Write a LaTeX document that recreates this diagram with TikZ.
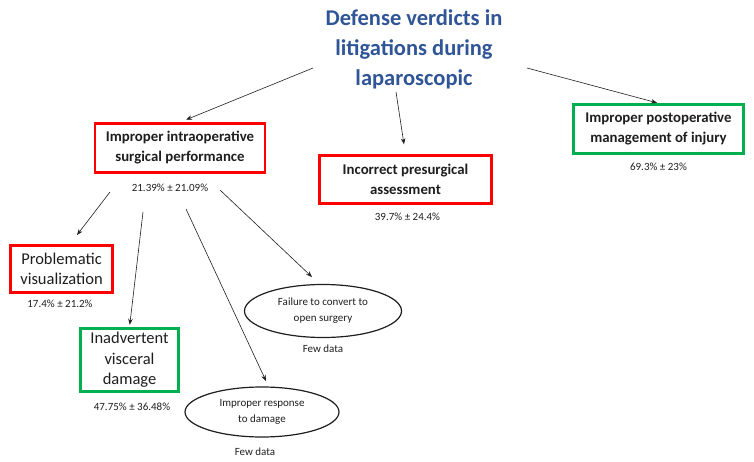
\documentclass[tikz,border=0pt]{standalone}
\usepackage{fontspec}
\setmainfont{Carlito}
\usepackage{tikz}
\usetikzlibrary{arrows.meta,positioning,shapes.geometric}
\definecolor{titleblue}{RGB}{47,85,151}
\definecolor{boxred}{RGB}{255,0,0}
\definecolor{boxgreen}{RGB}{0,176,80}
\definecolor{txtgray}{RGB}{30,30,30}

\begin{document}
\begin{tikzpicture}[
  x=1pt, y=-1pt,
  box/.style={draw, line width=2.6pt, fill=white, align=center, text=txtgray, inner sep=1pt},
  redbox/.style={box, draw=boxred},
  greenbox/.style={box, draw=boxgreen},
  boldtxt/.style={font=\bfseries\fontsize{14.8}{20}\selectfont},
  plaintxt/.style={font=\fontsize{16.5}{20.5}\selectfont},
  oval/.style={ellipse, draw=txtgray, line width=1.2pt, minimum width=157pt, minimum height=53pt, inner sep=0pt, align=center, text=txtgray, font=\fontsize{11}{16}\selectfont},
  pct/.style={font=\fontsize{11}{13}\selectfont, text=txtgray, inner sep=0pt},
  arrow/.style={-{Stealth[length=6pt,width=4.5pt]}, line width=0.6pt, draw=txtgray}
]
\useasboundingbox (0,0) rectangle (754,462);

\node[align=center, text=titleblue, font=\bfseries\fontsize{22.5}{30}\selectfont] (title) at (414,49) {Defense verdicts in\\litigations during\\laparoscopic};

\node[redbox, boldtxt, minimum width=170pt, minimum height=49pt] (intra) at (180,148) {Improper intraoperative\\surgical performance};
\node[redbox, boldtxt, minimum width=172pt, minimum height=48pt] (presurg) at (405.5,179.5) {Incorrect presurgical\\assessment};
\node[greenbox, boldtxt, minimum width=170pt, minimum height=49pt] (postop) at (658.5,129) {Improper postoperative\\management of injury};
\node[redbox, plaintxt, minimum width=102pt, minimum height=47pt] (visual) at (61.5,269) {Problematic\\visualization};
\node[greenbox, plaintxt, minimum width=98pt, minimum height=63pt] (visceral) at (129.5,360) {Inadvertent\\visceral\\damage};
\node[oval] (convert) at (323,311) {Failure to convert to\\open surgery};
\node[oval, minimum width=154pt, minimum height=50pt] (response) at (262,412) {Improper response\\to damage};

% percentages
\node[pct, below=10pt of intra, xshift=-10pt] (intrapct) {21.39\% ± 21.09\%};
\node[pct, below=8pt of presurg, xshift=2pt] (presurgpct) {39.7\% ± 24.4\%};
\node[pct, below=8pt of postop] (postoppct) {69.3\% ± 23\%};
\node[pct, below=6pt of visual, xshift=-1.5pt] (visualpct) {17.4\% ± 21.2\%};
\node[pct, below=10pt of visceral, xshift=2.5pt] (visceralpct) {47.75\% ± 36.48\%};
\node[pct, below=7pt of convert] (convertfew) {Few data};
\node[pct, below=10pt of response, xshift=-7pt] (responsefew) {Few data};

% connectors
\coordinate (tl) at (313,68);
\coordinate (tm) at (396,92);
\coordinate (tr) at (527,68);
\coordinate (a1) at (110,192);
\coordinate (a2) at (143,212);
\coordinate (a3) at (186,209);
\coordinate (a4) at (220,190);
\coordinate (visualin) at (77,235);
\coordinate (responsein) at (266,381);
\coordinate (convertin) at (312,277);
\draw[arrow, shorten >=6.5pt] (tl) -- (intra.north);
\draw[arrow, shorten >=10pt] (tm) -- (presurg.north);
\draw[arrow, shorten >=1.5pt] (tr) -- (postop.north);
\draw[arrow] (a1) -- (visualin);
\draw[arrow, shorten >=2.5pt] (a2) -- (visceral.north);
\draw[arrow] (a3) -- (responsein);
\draw[arrow] (a4) -- (convertin);
\end{tikzpicture}
\end{document}
